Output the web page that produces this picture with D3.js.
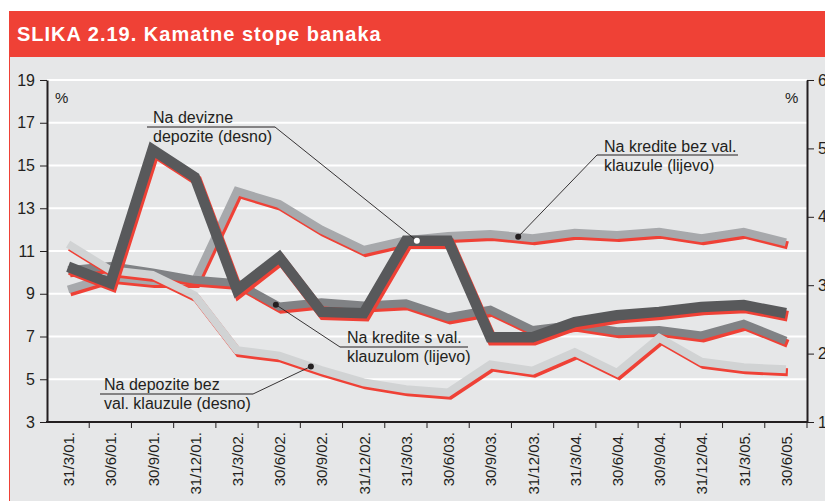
<!DOCTYPE html>
<html>
<head>
<meta charset="utf-8">
<script src="https://cdn.jsdelivr.net/npm/d3@7"></script>
<style>
	body { margin: 0; background: #fff; }
	svg { display: block; font-family: "Liberation Sans", Arial, Helvetica, sans-serif; }
</style>
</head>
<body>
<svg id="chart" width="825" height="501"></svg>
<script>
// Data
var dates = ["31/3/01.","30/6/01.","30/9/01.","31/12/01.","31/3/02.","30/6/02.","30/9/02.","31/12/02.","31/3/03.","30/6/03.","30/9/03.","31/12/03.","31/3/04.","30/6/04.","30/9/04.","31/12/04.","31/3/05.","30/6/05."];

// left axis (%)
var krediteBezKlauzule = [9.2, 9.8, 9.6, 9.6, 13.8, 13.2, 12.0, 11.05, 11.5, 11.7, 11.8, 11.6, 11.85, 11.75, 11.9, 11.6, 11.9, 11.4];
var krediteSKlauzulom = [10.1, 10.3, 10.0, 9.65, 9.5, 8.4, 8.6, 8.45, 8.55, 7.9, 8.25, 7.3, 7.55, 7.25, 7.3, 7.05, 7.6, 6.8];
// right axis (%)
var devizneDepozite = [3.27, 3.03, 4.98, 4.58, 2.93, 3.41, 2.61, 2.59, 3.65, 3.65, 2.24, 2.24, 2.46, 2.56, 2.61, 2.68, 2.71, 2.59];
var depoziteBezKlauzule = [3.6, 3.22, 3.15, 2.85, 2.05, 1.97, 1.76, 1.58, 1.48, 1.43, 1.84, 1.75, 2.02, 1.72, 2.23, 1.88, 1.8, 1.77];

var leftTicks = [3, 5, 7, 9, 11, 13, 15, 17, 19];
var rightTicks = [1, 2, 3, 4, 5, 6];

var title = "SLIKA 2.19. Kamatne stope banaka";

// Layout
var margin = { left: 47, right: 807, top: 80, bottom: 422 },
	red = "#ef4136",
	panelGray = "#e6e7e8",
	ink = "#231f20";

var svg = d3.select("#chart");

// Panel + title bar
svg.append("rect").attr("x", 9).attr("y", 57).attr("width", 816).attr("height", 444).attr("fill", panelGray);
svg.append("line").attr("x1", 9.5).attr("x2", 9.5).attr("y1", 57).attr("y2", 501).attr("stroke", red).attr("stroke-width", 1);
svg.append("rect").attr("x", 9).attr("y", 11).attr("width", 816).attr("height", 46).attr("fill", red);
svg.append("text").attr("x", 17).attr("y", 41)
	.attr("fill", "#fff").attr("font-weight", "bold").attr("font-size", "20px")
	.attr("letter-spacing", "1px")
	.text(title);

// Scales
var x = d3.scaleBand().domain(dates).range([margin.left, margin.right]);
var xc = function(i) { return x(dates[i]) + x.bandwidth() / 2; };
var yL = d3.scaleLinear().domain([3, 19]).range([margin.bottom, margin.top]);
var yR = d3.scaleLinear().domain([1, 6]).range([margin.bottom, margin.top]);

// Grid
svg.append("g").selectAll("line")
	.data(leftTicks.slice(1))
	.enter().append("line")
		.attr("x1", margin.left).attr("x2", margin.right)
		.attr("y1", function(d) { return yL(d); })
		.attr("y2", function(d) { return yL(d); })
		.attr("stroke", "#fff").attr("stroke-width", 2);

// Series (drawn bottom to top)
var series = [
	{ name: "kreditiBez", values: krediteBezKlauzule, y: yL, color: "#a7a9ac", width: 8 },
	{ name: "kreditiS", values: krediteSKlauzulom, y: yL, color: "#808285", width: 8 },
	{ name: "depozitiBez", values: depoziteBezKlauzule, y: yR, color: "#d1d3d4", width: 8 },
	{ name: "devizne", values: devizneDepozite, y: yR, color: "#58595b", width: 10.5 }
];

series.forEach(function(s) {
	var line = d3.line()
		.x(function(d, i) { return xc(i); })
		.y(function(d) { return s.y(d); });
	var g = svg.append("g").attr("class", "series " + s.name);
	// red "shadow"
	g.append("path").datum(s.values)
		.attr("d", line)
		.attr("transform", "translate(2,3)")
		.attr("fill", "none").attr("stroke", red).attr("stroke-width", s.width)
		.attr("stroke-linejoin", "miter").attr("stroke-linecap", "butt");
	g.append("path").datum(s.values)
		.attr("d", line)
		.attr("fill", "none").attr("stroke", s.color).attr("stroke-width", s.width)
		.attr("stroke-linejoin", "miter").attr("stroke-linecap", "butt");
});

// Axes
var axisL = svg.append("g").attr("transform", "translate(" + margin.left + ",0)")
	.call(d3.axisLeft(yL).tickValues(leftTicks).tickSize(7).tickPadding(5).tickSizeOuter(0));
var axisR = svg.append("g").attr("transform", "translate(" + margin.right + ",0)")
	.call(d3.axisRight(yR).tickValues(rightTicks).tickSize(7).tickPadding(4).tickSizeOuter(0));
[axisL, axisR].forEach(function(a) {
	a.select(".domain").attr("stroke", ink).attr("stroke-width", 2);
	a.selectAll(".tick line").attr("stroke", ink).attr("stroke-width", 1);
	a.selectAll(".tick text").attr("fill", ink).attr("font-size", "16px").attr("font-family", null);
});

// Bottom axis
var bottom = svg.append("g");
bottom.append("line")
	.attr("x1", margin.left - 1).attr("x2", margin.right + 1)
	.attr("y1", margin.bottom).attr("y2", margin.bottom)
	.attr("stroke", ink).attr("stroke-width", 2);
bottom.selectAll("line.tk")
	.data(dates.slice(1).concat(["end"]))
	.enter().append("line").attr("class", "tk")
		.attr("x1", function(d) { return d == "end" ? margin.right : x(d); })
		.attr("x2", function(d) { return d == "end" ? margin.right : x(d); })
		.attr("y1", margin.bottom).attr("y2", margin.bottom + 6)
		.attr("stroke", ink).attr("stroke-width", 1);
bottom.selectAll("text")
	.data(dates)
	.enter().append("text")
		.attr("transform", function(d, i) { return "translate(" + (xc(i) + 6) + "," + (margin.bottom + 10) + ") rotate(-90)"; })
		.attr("text-anchor", "end")
		.attr("font-size", "15px").attr("fill", ink)
		.text(function(d) { return d; });

// % unit labels
svg.append("text").attr("x", 55).attr("y", 103).attr("font-size", "15px").attr("fill", ink).text("%");
svg.append("text").attr("x", 785).attr("y", 103).attr("font-size", "15px").attr("fill", ink).text("%");

// Annotations: dot at fractional index along the series, leader to the underline end
var notes = [
	{ series: 3, at: 8.26, lines: ["Na devizne", "depozite (desno)"], tx: 153, ty: 123, uy: 127, u1: 147, u2: 275, end: "right", dot: "#fff" },
	{ series: 0, at: 10.66, lines: ["Na kredite bez val.", "klauzule (lijevo)"], tx: 604, ty: 152, uy: 155, u1: 597, u2: 738, end: "left", dot: ink },
	{ series: 1, at: 4.92, lines: ["Na kredite s val.", "klauzulom (lijevo)"], tx: 347, ty: 343, uy: 347, u1: 340, u2: 468, end: "left", dot: ink },
	{ series: 2, at: 5.75, lines: ["Na depozite bez", "val. klauzule (desno)"], tx: 104, ty: 390, uy: 394, u1: 100, u2: 253, end: "right", dot: ink }
];

var ann = svg.append("g").attr("class", "annotations");
notes.forEach(function(n) {
	var s = series[n.series],
		i0 = Math.floor(n.at), f = n.at - i0,
		px = xc(i0) + f * (xc(i0 + 1) - xc(i0)),
		py = s.y(s.values[i0] + f * (s.values[i0 + 1] - s.values[i0]));
	var ex = n.end == "right" ? n.u2 : n.u1;

	ann.append("line").attr("x1", n.u1).attr("x2", n.u2).attr("y1", n.uy).attr("y2", n.uy)
		.attr("stroke", ink).attr("stroke-width", 1);
	ann.append("line").attr("x1", ex).attr("y1", n.uy).attr("x2", px).attr("y2", py)
		.attr("stroke", ink).attr("stroke-width", 0.9);
	ann.append("circle").attr("cx", px).attr("cy", py).attr("r", 3).attr("fill", n.dot);

	n.lines.forEach(function(t, k) {
		ann.append("text").attr("x", n.tx).attr("y", n.ty + k * 19)
			.attr("font-size", "16px").attr("fill", ink).text(t);
	});
});
</script>
</body>
</html>
